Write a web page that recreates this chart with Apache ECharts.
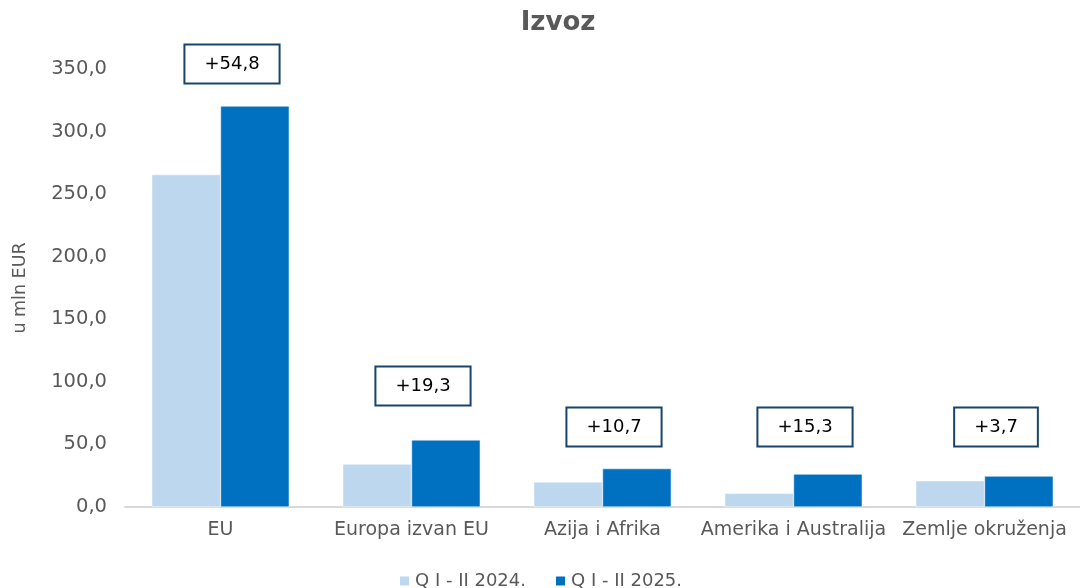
<!DOCTYPE html>
<html>
<head>
<meta charset="utf-8">
<title>Izvoz</title>
<script src="https://cdn.jsdelivr.net/npm/echarts@6/dist/echarts.min.js"></script>
<style>
  html, body { margin: 0; padding: 0; background: #fff; }
  #chart { width: 1080px; height: 588px; }
</style>
</head>
<body>
<div id="chart"></div>
<script>
// podaci
const categories = ['EU', 'Europa izvan EU', 'Azija i Afrika', 'Amerika i Australija', 'Zemlje okruženja'];
const values2024 = [265.6, 34.3, 20.0, 11.0, 21.0];
const values2025 = [320.4, 53.6, 30.7, 26.3, 24.7];
const diffs = ['+54,8', '+19,3', '+10,7', '+15,3', '+3,7'];
// visina okvira s razlikom (u jedinicama osi)
const boxLevels = [354, 97, 64, 64, 64];
const yTicks = [0, 50, 100, 150, 200, 250, 300, 350];

const font = "'DejaVu Sans', Verdana, sans-serif";
const grey = '#595959';

const chart = echarts.init(document.getElementById('chart'));

// okviri s razlikom 2025 - 2024
const renderBox = (params, api) => {
  const pt = api.coord([api.value(0), api.value(1)]);
  const bandWidth = api.size([1, 0])[0];
  return {
    type: 'text',
    x: Math.round(pt[0] + bandWidth * 0.06),
    y: Math.round(pt[1]),
    style: {
      text: diffs[params.dataIndex],
      font: '18px ' + font,
      fill: '#000',
      align: 'center',
      verticalAlign: 'middle',
      backgroundColor: '#fff',
      borderColor: '#17456B',
      borderWidth: 2,
      padding: [10, 19, 9, 19]
    }
  };
};

chart.setOption({
  animation: false,
  textStyle: { fontFamily: font },
  title: {
    text: 'Izvoz',
    left: 553,
    textAlign: 'center',
    top: 5,
    textStyle: { fontFamily: font, fontSize: 26, fontWeight: 'bold', color: grey }
  },
  legend: {
    data: ['Q I - II 2024.', 'Q I - II 2025.'],
    top: 567,
    left: 'center',
    itemWidth: 11,
    itemHeight: 11,
    itemGap: 28,
    icon: 'rect',
    textStyle: { fontFamily: font, fontSize: 18, color: grey }
  },
  grid: {
    left: 125,
    right: 0,
    top: 69,
    bottom: 81,
    containLabel: false,
    outerBoundsMode: 'none'
  },
  xAxis: {
    type: 'category',
    data: categories,
    axisTick: { show: false },
    axisLine: { lineStyle: { color: '#d9d9d9', width: 2 } },
    axisLabel: { color: grey, fontSize: 19, margin: 14, fontFamily: font, interval: 0 }
  },
  yAxis: {
    type: 'value',
    min: 0,
    max: yTicks[yTicks.length - 1],
    interval: 50,
    name: 'u mln EUR',
    nameLocation: 'middle',
    nameGap: 96,
    nameRotate: 90,
    nameTextStyle: { color: grey, fontSize: 17.5, fontFamily: font },
    splitLine: { show: false },
    axisLine: { show: false },
    axisTick: { show: false },
    axisLabel: {
      color: grey,
      fontSize: 19.5,
      margin: 18,
      fontFamily: font,
      formatter: v => v.toFixed(1).replace('.', ',')
    }
  },
  series: [
    {
      name: 'Q I - II 2024.',
      type: 'bar',
      data: values2024,
      barGap: '0%',
      barCategoryGap: '28%',
      itemStyle: { color: '#BDD7EE', borderColor: '#ffffff', borderWidth: 0.5 }
    },
    {
      name: 'Q I - II 2025.',
      type: 'bar',
      data: values2025,
      itemStyle: { color: '#0070C0', borderColor: '#ffffff', borderWidth: 0.5 }
    },
    {
      name: 'razlika',
      type: 'custom',
      data: boxLevels.map((v, i) => [i, v]),
      renderItem: renderBox,
      clip: false,
      silent: true,
      z: 5
    }
  ]
});

window.addEventListener('resize', () => chart.resize());
</script>
</body>
</html>
